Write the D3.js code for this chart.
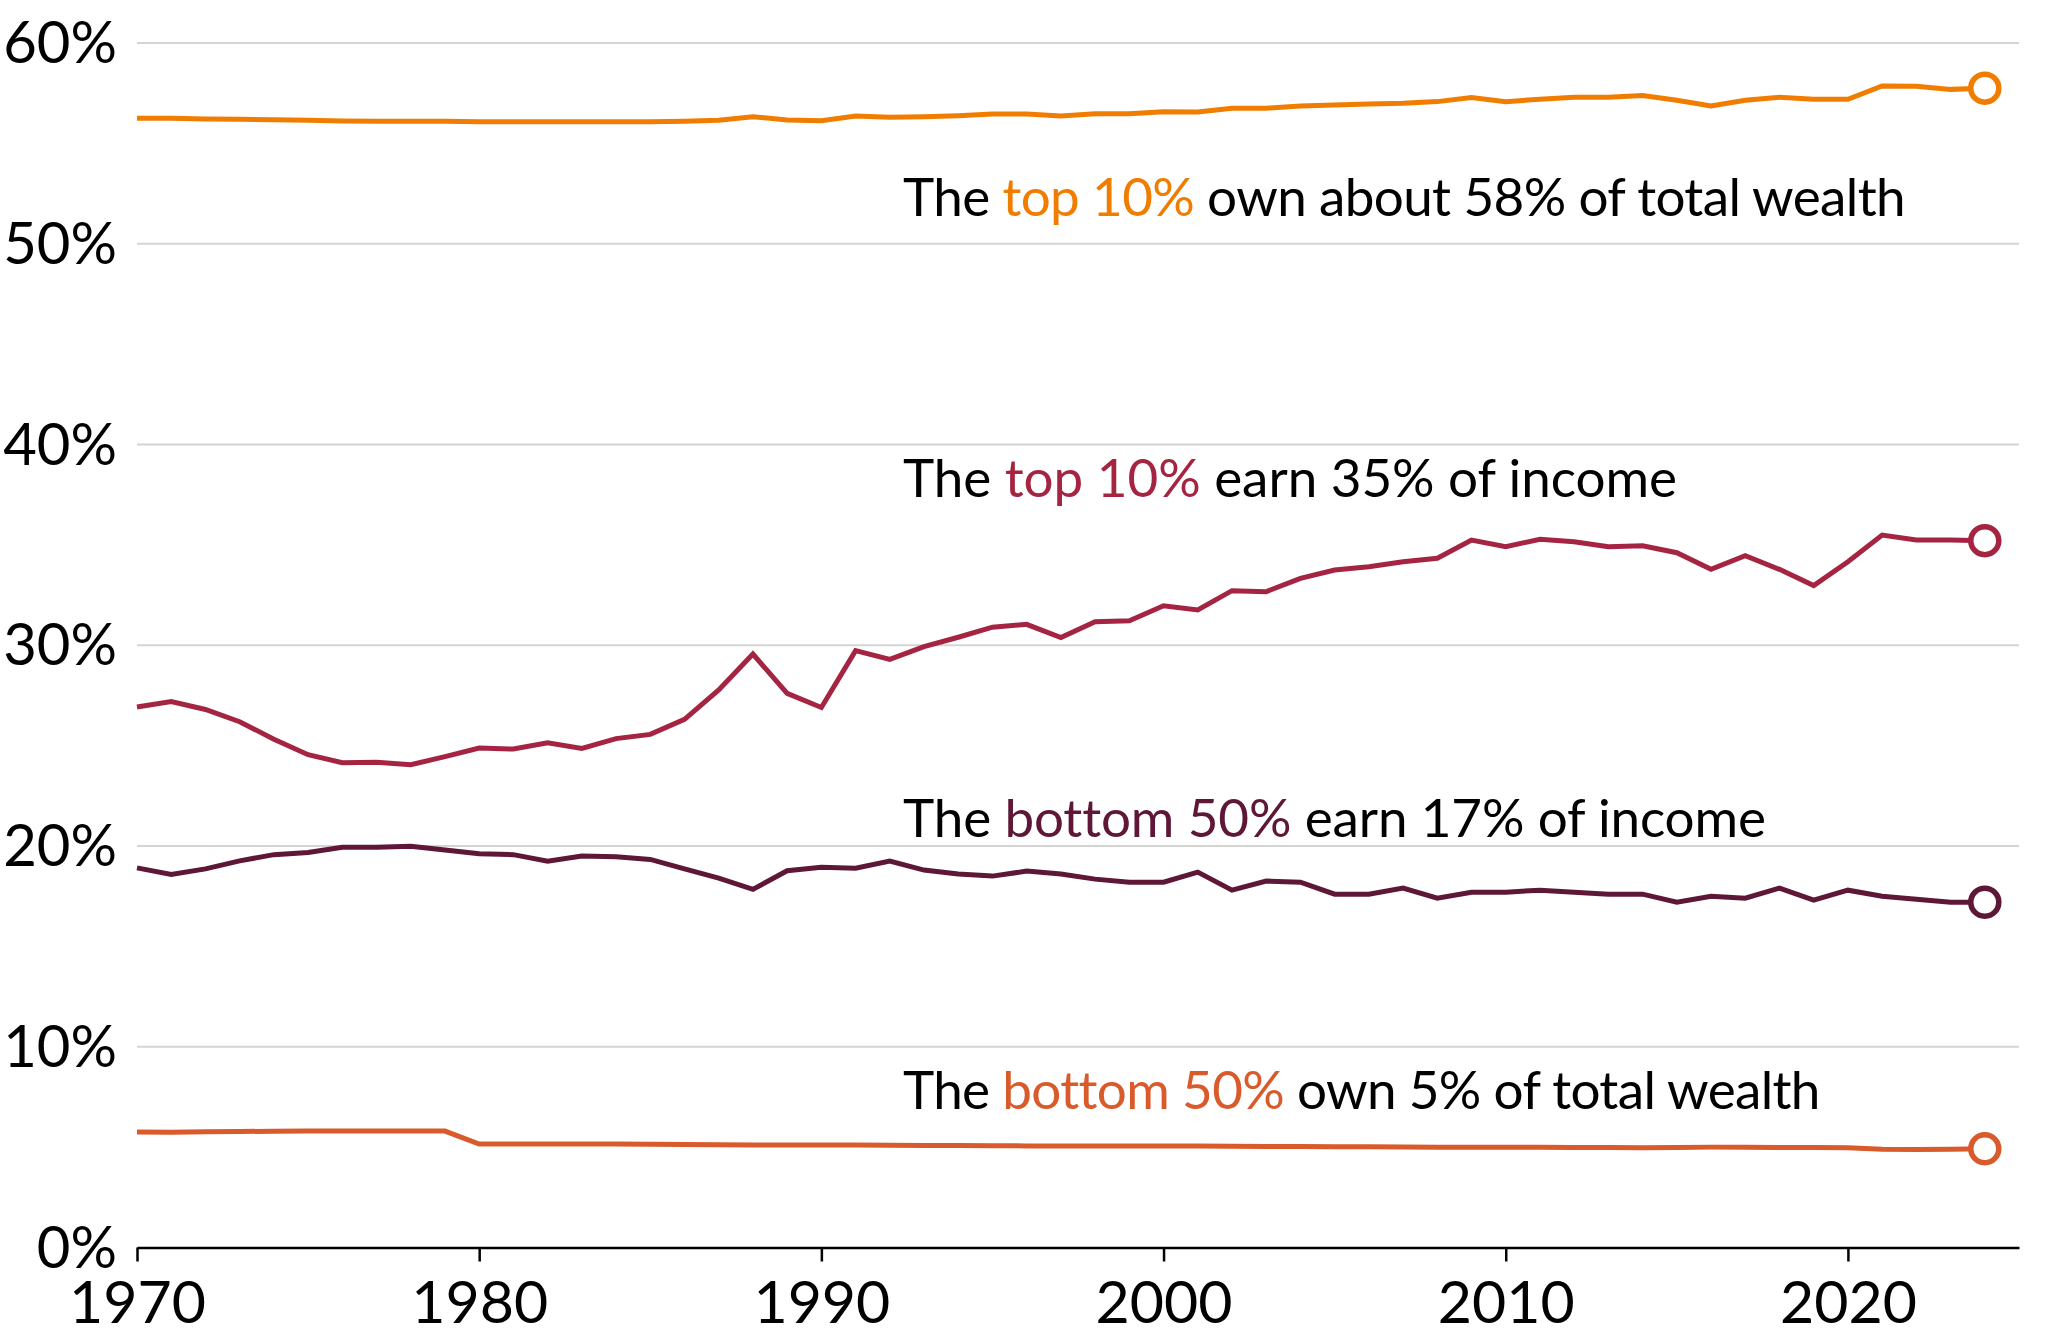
<!DOCTYPE html>
<html>
<head>
<meta charset="utf-8">
<script src="https://cdn.jsdelivr.net/npm/d3@7"></script>
<style>
  body { margin: 0; background: #fff; }
  text { font-family: Lato, "Open Sans", sans-serif; fill: #000; }
</style>
</head>
<body>
<div id="chart"></div>
<script>
// Years 1970 .. 2024
const years = d3.range(1970, 2025);

// Share of total wealth held by the top 10%
const top10Wealth = [
  56.25, 56.25, 56.22, 56.2, 56.18, 56.15, 56.12, 56.1, 56.1, 56.1,
  56.08, 56.08, 56.08, 56.08, 56.08, 56.08, 56.1, 56.15, 56.33, 56.16,
  56.13, 56.36, 56.3, 56.33, 56.38, 56.46, 56.46, 56.36, 56.47, 56.48,
  56.58, 56.56, 56.75, 56.75, 56.86, 56.91, 56.96, 57.0, 57.08, 57.28,
  57.08, 57.2, 57.3, 57.3, 57.38, 57.15, 56.86, 57.15, 57.3, 57.2,
  57.2, 57.86, 57.85, 57.69, 57.75
];

// Share of income earned by the top 10%
const top10Income = [
  26.92, 27.2, 26.8, 26.19, 25.32, 24.55, 24.15, 24.17, 24.05, 24.45,
  24.88, 24.83, 25.14, 24.86, 25.35, 25.56, 26.31, 27.77, 29.56, 27.6,
  26.9, 29.73, 29.3, 29.93, 30.4, 30.9, 31.04, 30.38, 31.17, 31.22,
  31.97, 31.76, 32.72, 32.67, 33.33, 33.75, 33.91, 34.16, 34.33, 35.24,
  34.91, 35.28, 35.16, 34.91, 34.96, 34.61, 33.78, 34.46, 33.78, 32.97,
  34.16, 35.49, 35.24, 35.24, 35.21
];

// Share of income earned by the bottom 50%
const bottom50Income = [
  18.91, 18.58, 18.86, 19.26, 19.57, 19.68, 19.94, 19.94, 19.99, 19.8,
  19.61, 19.57, 19.24, 19.5, 19.47, 19.33, 18.86, 18.4, 17.84, 18.77,
  18.94, 18.89, 19.25, 18.8, 18.6, 18.5, 18.75, 18.6, 18.35, 18.2,
  18.2, 18.7, 17.8, 18.25, 18.2, 17.6, 17.6, 17.9, 17.4, 17.7,
  17.7, 17.8, 17.7, 17.6, 17.6, 17.2, 17.5, 17.4, 17.9, 17.3,
  17.8, 17.5, 17.35, 17.2, 17.2
];

// Share of total wealth held by the bottom 50%
const bottom50Wealth = [
  5.75, 5.74, 5.76, 5.78, 5.79, 5.8, 5.8, 5.8, 5.8, 5.8,
  5.15, 5.15, 5.15, 5.15, 5.15, 5.14, 5.13, 5.12, 5.11, 5.11,
  5.1, 5.1, 5.09, 5.08, 5.08, 5.07, 5.06, 5.06, 5.05, 5.05,
  5.05, 5.05, 5.04, 5.03, 5.03, 5.02, 5.02, 5.01, 5.0, 4.99,
  5.0, 4.99, 4.98, 4.98, 4.97, 4.98, 5.0, 4.99, 4.98, 4.98,
  4.97, 4.89, 4.88, 4.9, 4.92
];

const yTicks = [0, 10, 20, 30, 40, 50, 60];
const xTicks = [1970, 1980, 1990, 2000, 2010, 2020];

const seriesColors = ["#f07d00", "#a52442", "#5e1737", "#d95a2b"];

const series = [
  { name: "top10Wealth", values: top10Wealth, color: seriesColors[0] },
  { name: "top10Income", values: top10Income, color: seriesColors[1] },
  { name: "bottom50Income", values: bottom50Income, color: seriesColors[2] },
  { name: "bottom50Wealth", values: bottom50Wealth, color: seriesColors[3] }
];

// label text pieces: [plain, highlighted, plain]
const labels = [
  { parts: ["The ", "top 10%", " own about 58% of total wealth"], color: seriesColors[0], baseline: 216, width: 1002 },
  { parts: ["The ", "top 10%", " earn 35% of income"], color: seriesColors[1], baseline: 497, width: 774 },
  { parts: ["The ", "bottom 50%", " earn 17% of income"], color: seriesColors[2], baseline: 837, width: 861 },
  { parts: ["The ", "bottom 50%", " own 5% of total wealth"], color: seriesColors[3], baseline: 1109, width: 915 }
];

const width = 2048;
const height = 1340;

const svg = d3.select("#chart")
  .append("svg")
  .attr("width", width)
  .attr("height", height);

const x = d3.scaleLinear()
  .domain([1970, 2025])
  .range([137, 2019]);

const y = d3.scaleLinear()
  .domain([0, 60])
  .range([1247.5, 43]);

// gridlines
svg.append("g")
  .selectAll("line")
  .data(yTicks.filter(d => d > 0))
  .enter()
  .append("line")
  .attr("x1", x(1970))
  .attr("x2", x(2025))
  .attr("y1", d => y(d))
  .attr("y2", d => y(d))
  .attr("stroke", "#d4d4d4")
  .attr("stroke-width", 2);

// y labels
svg.append("g")
  .selectAll("text")
  .data(yTicks)
  .enter()
  .append("text")
  .attr("x", 117)
  .attr("y", d => y(d) + 20)
  .attr("text-anchor", "end")
  .style("font-size", "58px")
  .text(d => d + "%");

// x axis
const xAxis = d3.axisBottom(x)
  .tickValues(xTicks)
  .tickFormat(d3.format("d"))
  .tickSize(14)
  .tickSizeOuter(0);

const gx = svg.append("g")
  .attr("transform", `translate(0,${y(0)})`)
  .call(xAxis);

gx.select(".domain").attr("stroke", "#000").attr("stroke-width", 2.5);
gx.selectAll(".tick line").attr("stroke", "#000").attr("stroke-width", 2.5);
gx.selectAll(".tick text")
  .attr("fill", "#000")
  .attr("dy", null)
  .attr("y", 75)
  .style("font-size", "59px")
  .style("font-family", "Lato, 'Open Sans', sans-serif");

// lines
const line = d3.line()
  .x((d, i) => x(years[i]))
  .y(d => y(d));

svg.append("g")
  .selectAll("path")
  .data(series)
  .enter()
  .append("path")
  .attr("d", d => line(d.values))
  .attr("fill", "none")
  .attr("stroke", d => d.color)
  .attr("stroke-width", 5)
  .attr("stroke-linejoin", "miter");

// end markers
svg.append("g")
  .selectAll("circle")
  .data(series)
  .enter()
  .append("circle")
  .attr("cx", x(years[years.length - 1]))
  .attr("cy", d => y(d.values[d.values.length - 1]))
  .attr("r", 14)
  .attr("fill", "#fff")
  .attr("stroke", d => d.color)
  .attr("stroke-width", 5.5);

// annotations
const labelX = 903;
labels.forEach(l => {
  const t = svg.append("text")
    .attr("x", labelX)
    .attr("y", l.baseline)
    .style("font-size", "53px");
  l.parts.forEach((p, i) => {
    t.append("tspan")
      .text(p)
      .style("fill", i === 1 ? l.color : "#000");
  });
  // squeeze or stretch letter spacing to match the original width
  const natural = t.node().getComputedTextLength();
  const n = l.parts.join("").length;
  t.style("letter-spacing", ((l.width - natural) / n) + "px");
});
</script>
</body>
</html>
